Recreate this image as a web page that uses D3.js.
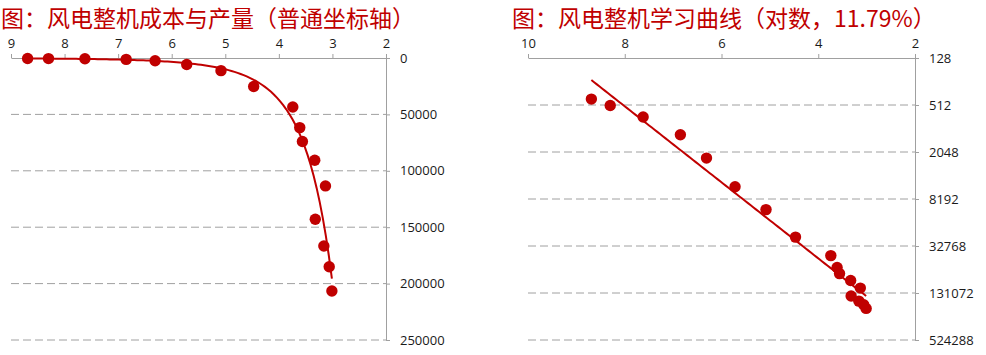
<!DOCTYPE html>
<html>
<head>
<meta charset="utf-8">
<script src="https://cdn.jsdelivr.net/npm/d3@7"></script>
<style>
  body { margin: 0; background: #fff; }
  svg { display: block; }
  .tick text { font-family: "Open Sans", sans-serif; font-size: 13px; fill: #1a1a1a; }
  .axis path, .axis line { stroke: #a0a0a0; }
</style>
</head>
<body>
<div id="chart"></div>
<script>
// Data (cost per kW, cumulative production)
const cost = [8.69, 8.30, 7.62, 6.85, 6.31, 5.72, 5.08, 4.47, 3.74, 3.61, 3.56, 3.33, 3.13, 3.32, 3.16, 3.06, 3.01]
const production = [430, 520, 730, 1230, 2450, 5700, 11200, 25200, 43500, 61700, 74000, 90600, 113400, 143000, 166700, 185000, 206500]

const leftTitle = '图：风电整机成本与产量（普通坐标轴）'
const rightTitle = '图：风电整机学习曲线（对数，11.79%）'
const leftXTicks = [9, 8, 7, 6, 5, 4, 3, 2]
const leftYTicks = [0, 50000, 100000, 150000, 200000, 250000]
const rightXTicks = [10, 8, 6, 4, 2]
const rightYTicks = [128, 512, 2048, 8192, 32768, 131072, 524288]

const red = '#c00000'
const points = cost.map((c, i) => ({ x: c, y: production[i] }))

// least squares helper
function fit(xs, ys) {
  const mx = d3.mean(xs), my = d3.mean(ys)
  const b = d3.sum(xs, (x, i) => (x - mx) * (ys[i] - my)) / d3.sum(xs, x => (x - mx) ** 2)
  return { a: my - b * mx, b }
}
// power trend for left chart, exponential trend for right chart
const pow = fit(cost.map(Math.log), production.map(Math.log))
const expo = fit(cost, production.map(Math.log))
const [xMin, xMax] = d3.extent(cost)
const samples = d3.range(0, 101).map(i => xMax - (xMax - xMin) * i / 100)

const svg = d3.select('#chart')
  .append('svg')
  .attr('width', 986)
  .attr('height', 355)

function panel(opts) {
  const g = svg.append('g')

  g.append('text')
    .attr('x', opts.titleX)
    .attr('y', 27)
    .attr('fill', red)
    .style('font-family', '"Noto Sans CJK SC", sans-serif')
    .style('font-size', '23px')
    .text(opts.title)

  const x = opts.x, y = opts.y
  const [x0, x1] = x.range()
  const [y0, y1] = y.range()

  // dashed gridlines
  g.append('g')
    .selectAll('line')
    .data(opts.yTicks.slice(1))
    .join('line')
    .attr('x1', x0)
    .attr('x2', x1)
    .attr('y1', d => y(d))
    .attr('y2', d => y(d))
    .attr('stroke', '#a0a0a0')
    .attr('stroke-dasharray', '8,4')

  g.append('g')
    .attr('class', 'axis')
    .attr('transform', `translate(0, ${y0})`)
    .call(d3.axisTop(x).tickValues(opts.xTicks).tickSize(4).tickSizeOuter(0).tickPadding(6).tickFormat(d3.format('d')))

  g.append('g')
    .attr('class', 'axis')
    .attr('transform', `translate(${x1}, 0)`)
    .call(d3.axisRight(y).tickValues(opts.yTicks).tickSize(4).tickSizeOuter(0).tickPadding(10).tickFormat(d3.format('d')))

  g.append('path')
    .datum(samples)
    .attr('fill', 'none')
    .attr('stroke', red)
    .attr('stroke-width', 2)
    .attr('d', d3.line().x(d => x(d)).y(d => y(opts.trend(d))))

  g.append('g')
    .selectAll('circle')
    .data(points)
    .join('circle')
    .attr('cx', d => x(d.x))
    .attr('cy', d => y(d.y))
    .attr('r', 5.7)
    .attr('fill', red)
}

panel({
  title: leftTitle,
  titleX: 1,
  x: d3.scaleLinear().domain([9, 2]).range([11, 386]),
  y: d3.scaleLinear().domain([0, 250000]).range([58, 340]),
  xTicks: leftXTicks,
  yTicks: leftYTicks,
  trend: c => Math.exp(pow.a + pow.b * Math.log(c)),
})

panel({
  title: rightTitle,
  titleX: 512,
  x: d3.scaleLinear().domain([10, 2]).range([528, 915]),
  y: d3.scaleLog().base(2).domain([128, 524288]).range([58, 340]),
  xTicks: rightXTicks,
  yTicks: rightYTicks,
  trend: c => Math.exp(expo.a + expo.b * c),
})
</script>
</body>
</html>
